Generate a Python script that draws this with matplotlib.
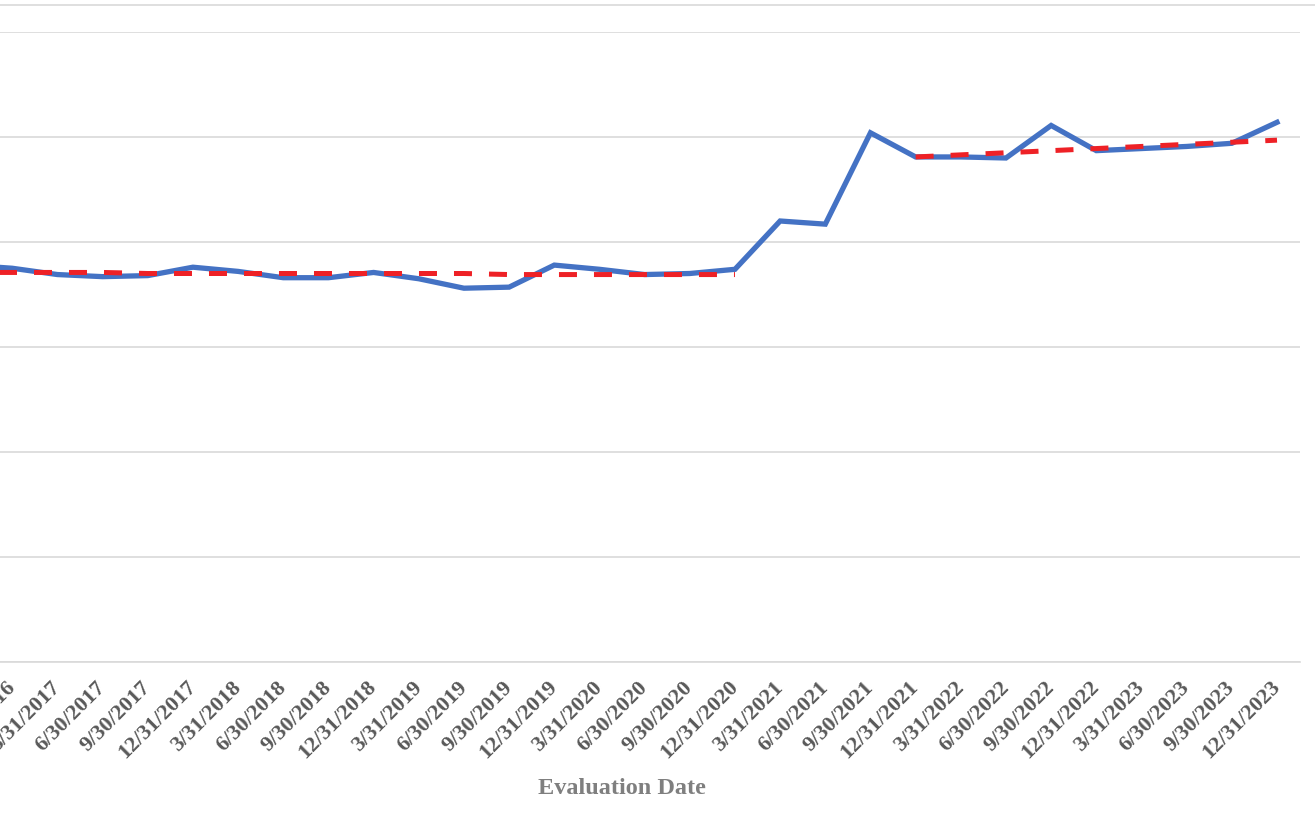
import matplotlib.pyplot as plt
from matplotlib.lines import Line2D
from matplotlib.transforms import ScaledTranslation
import numpy as np

# Квартальные даты оценки
dates = ["9/30/2016", "12/31/2016",
         "3/31/2017", "6/30/2017", "9/30/2017", "12/31/2017",
         "3/31/2018", "6/30/2018", "9/30/2018", "12/31/2018",
         "3/31/2019", "6/30/2019", "9/30/2019", "12/31/2019",
         "3/31/2020", "6/30/2020", "9/30/2020", "12/31/2020",
         "3/31/2021", "6/30/2021", "9/30/2021", "12/31/2021",
         "3/31/2022", "6/30/2022", "9/30/2022", "12/31/2022",
         "3/31/2023", "6/30/2023", "9/30/2023", "12/31/2023"]

# Фактические значения (синяя линия)
actual = [0.378, 0.375,
          0.369, 0.367, 0.368, 0.376,
          0.372, 0.366, 0.366, 0.371,
          0.365, 0.356, 0.357, 0.378,
          0.374, 0.369, 0.370, 0.374,
          0.420, 0.417, 0.504, 0.481,
          0.481, 0.480, 0.511, 0.487,
          0.489, 0.491, 0.494, 0.514]

# Линия тренда (красный пунктир), два участка
trend = [0.371, 0.371,
         0.371, 0.371, 0.370, 0.370,
         0.370, 0.370, 0.370, 0.370,
         0.370, 0.370, 0.369, 0.369,
         0.369, 0.369, 0.369, 0.369,
         np.nan, np.nan, np.nan, 0.481,
         0.483, 0.485, 0.487, 0.489,
         0.491, 0.493, 0.495, 0.497]

W, H = 1315, 832
fig = plt.figure(figsize=(W / 100, H / 100), dpi=100)

n = len(dates)
step = 45.17
x_last = 1277
left_px = x_last - (n - 1) * step - step / 2
right_px = x_last + step / 2
top_px, bottom_px = 32, 662
ax = fig.add_axes([left_px / W, 1 - bottom_px / H,
                   (right_px - left_px) / W, (bottom_px - top_px) / H])

x = np.arange(n)
ax.plot(x, actual, color="#4472C4", linewidth=3.8, solid_joinstyle="miter", zorder=3)
ax.plot(x, trend, color="#EE2126", linewidth=3.6, dashes=(3.6, 3.4),
        dash_capstyle="butt", zorder=4)

ax.set_xlim(-0.5, n - 0.5)
ax.set_ylim(0, 0.6)
ax.set_yticks(np.arange(0, 0.61, 0.1))
ax.yaxis.grid(True, color="#D9D9D9", linewidth=1.2)
ax.set_axisbelow(True)
for side in ["left", "right", "top"]:
    ax.spines[side].set_visible(False)
ax.spines["bottom"].set_color("#D9D9D9")
ax.spines["bottom"].set_linewidth(1.2)
ax.tick_params(axis="y", left=False, labelleft=False)
ax.tick_params(axis="x", length=0, pad=11)

ax.set_xticks(x)
ax.set_xticklabels(dates, rotation=45, ha="right", va="top", rotation_mode="anchor",
                   fontsize=16, fontweight="bold", family="Liberation Serif",
                   color="#595959")
shift = ScaledTranslation(-0.07, 0, fig.dpi_scale_trans)
for lbl in ax.get_xticklabels():
    lbl.set_transform(lbl.get_transform() + shift)

fig.text(622 / W, 1 - 789 / H, "Evaluation Date", ha="center", va="center",
         fontsize=17.5, fontweight="bold", family="Liberation Serif", color="#7F7F7F")

# верхняя граница области диаграммы
fig.add_artist(Line2D([0, 1], [1 - 5 / H, 1 - 5 / H], transform=fig.transFigure,
                      color="#D9D9D9", linewidth=1.2))

fig.savefig("out.png", dpi=100)
